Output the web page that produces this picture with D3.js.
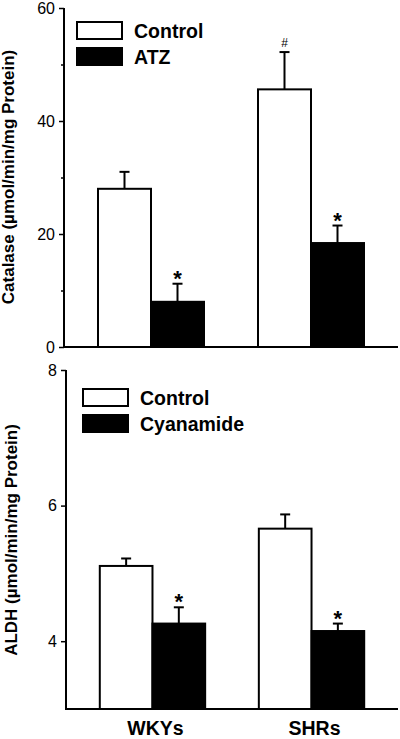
<!DOCTYPE html>
<html>
<head>
<meta charset="utf-8">
<script src="https://cdn.jsdelivr.net/npm/d3@7"></script>
<style>
  html, body { margin: 0; padding: 0; background: #fff; }
  svg { display: block; font-family: "Liberation Sans", Arial, Helvetica, sans-serif; }
</style>
</head>
<body>
<svg id="chart" width="400" height="739"></svg>
<script>
// ---- Data ----
const categories = ["WKYs", "SHRs"];

const catalaseSeries = ["Control", "ATZ"];
const catalaseControl = [28.0, 45.6];
const catalaseControlErr = [3.0, 6.6];
const catalaseATZ = [8.0, 18.4];
const catalaseATZErr = [3.2, 3.1];
const catalaseControlMarks = ["", "#"];
const catalaseATZMarks = ["*", "*"];
const catalaseTicks = [0, 20, 40, 60];
const catalaseMinorTicks = [10, 30, 50];

const aldhSeries = ["Control", "Cyanamide"];
const aldhControl = [5.11, 5.66];
const aldhControlErr = [0.11, 0.21];
const aldhCyanamide = [4.26, 4.15];
const aldhCyanamideErr = [0.24, 0.11];
const aldhControlMarks = ["", ""];
const aldhCyanamideMarks = ["*", "*"];
const aldhTicks = [4, 6, 8];

const seriesFills = ["#ffffff", "#000000"];

const svg = d3.select("#chart");

function drawPanel(cfg) {
  const g = svg.append("g");
  const x0 = d3.scaleBand().domain(categories).range([cfg.left, 398])
    .paddingInner(0.3375).paddingOuter(0.2125);
  const x1 = d3.scaleBand().domain(cfg.series).range([0, x0.bandwidth()]);
  const y = d3.scaleLinear().domain(cfg.domain).range([cfg.bottom, cfg.top]);

  const rows = [];
  categories.forEach((c, i) => {
    cfg.values.forEach((vals, s) => {
      rows.push({cat: c, ser: cfg.series[s], v: vals[i], e: cfg.errs[s][i], m: cfg.marks[s][i], fill: seriesFills[s]});
    });
  });

  // error bars (upper only)
  const capW = 10;
  rows.forEach(r => {
    const cx = x0(r.cat) + x1(r.ser) + x1.bandwidth() / 2;
    g.append("line").attr("x1", cx).attr("x2", cx)
      .attr("y1", y(r.v)).attr("y2", y(r.v + r.e))
      .attr("stroke", "#000").attr("stroke-width", 2);
    g.append("line").attr("x1", cx - capW / 2).attr("x2", cx + capW / 2)
      .attr("y1", y(r.v + r.e)).attr("y2", y(r.v + r.e))
      .attr("stroke", "#000").attr("stroke-width", 2);
    if (r.m === "*") {
      g.append("text").attr("x", cx).attr("y", y(r.v + r.e) + 2)
        .attr("text-anchor", "middle").style("font-size", "22px").style("font-weight", "bold")
        .text(r.m);
    } else if (r.m === "#") {
      g.append("text").attr("x", cx).attr("y", y(r.v + r.e) - 5)
        .attr("text-anchor", "middle").style("font-size", "12px")
        .text(r.m);
    }
  });

  // bars
  g.selectAll("rect.bar").data(rows).enter().append("rect")
    .attr("class", "bar")
    .attr("x", d => x0(d.cat) + x1(d.ser))
    .attr("y", d => y(d.v))
    .attr("width", x1.bandwidth())
    .attr("height", d => y(cfg.domain[0]) - y(d.v))
    .attr("fill", d => d.fill)
    .attr("stroke", "#000").attr("stroke-width", 2);

  // y axis
  const yAxis = d3.axisLeft(y).tickValues(cfg.ticks).tickSize(5).tickPadding(4).tickFormat(d3.format("d"));
  const ya = g.append("g").attr("transform", `translate(${cfg.left},0)`).call(yAxis);
  ya.attr("font-size", null).attr("font-family", null);
  ya.select(".domain").attr("stroke-width", 2).attr("d", `M0,${cfg.top}V${cfg.bottom}`);
  ya.selectAll(".tick line").attr("stroke-width", 1.5);
  ya.selectAll(".tick text").style("font-size", "16px").attr("fill", "#000");
  if (cfg.minor) {
    const ym = d3.axisLeft(y).tickValues(cfg.minor).tickSize(3).tickFormat("");
    const yma = g.append("g").attr("transform", `translate(${cfg.left},0)`).call(ym);
    yma.select(".domain").remove();
    yma.selectAll(".tick line").attr("stroke-width", 1.5);
  }

  // x axis line
  g.append("line").attr("x1", cfg.left - 1).attr("x2", 398)
    .attr("y1", cfg.bottom).attr("y2", cfg.bottom)
    .attr("stroke", "#000").attr("stroke-width", 2);

  if (cfg.showCats) {
    categories.forEach(c => {
      g.append("text").attr("x", x0(c) + x0.bandwidth() / 2 + 3).attr("y", cfg.bottom + 26)
        .attr("text-anchor", "middle").style("font-size", "19.5px").style("font-weight", "bold")
        .text(c);
    });
  }

  // y label
  g.append("text")
    .attr("transform", `translate(${cfg.labelX},${cfg.labelY}) rotate(-90)`)
    .attr("text-anchor", "middle").style("font-size", "17px").style("font-weight", "bold")
    .text(cfg.label);

  // legend
  cfg.series.forEach((s, i) => {
    const ly = cfg.legY + i * cfg.legStep;
    g.append("rect").attr("x", cfg.legX).attr("y", ly).attr("width", 45).attr("height", 17)
      .attr("fill", seriesFills[i]).attr("stroke", "#000").attr("stroke-width", 2);
    g.append("text").attr("x", cfg.legX + 57).attr("y", ly + 16)
      .style("font-size", "19.5px").style("font-weight", "bold").text(s);
  });
}

drawPanel({
  left: 64, top: 8, bottom: 347, domain: [0, 60],
  series: catalaseSeries,
  values: [catalaseControl, catalaseATZ],
  errs: [catalaseControlErr, catalaseATZErr],
  marks: [catalaseControlMarks, catalaseATZMarks],
  ticks: catalaseTicks, minor: catalaseMinorTicks,
  label: "Catalase (µmol/min/mg Protein)", labelX: 14, labelY: 177,
  legX: 77, legY: 22, legStep: 26,
  showCats: false
});

drawPanel({
  left: 66, top: 370, bottom: 709, domain: [3, 8],
  series: aldhSeries,
  values: [aldhControl, aldhCyanamide],
  errs: [aldhControlErr, aldhCyanamideErr],
  marks: [aldhControlMarks, aldhCyanamideMarks],
  ticks: aldhTicks, minor: null,
  label: "ALDH (µmol/min/mg Protein)", labelX: 17, labelY: 540,
  legX: 83, legY: 389, legStep: 26,
  showCats: true
});
</script>
</body>
</html>
